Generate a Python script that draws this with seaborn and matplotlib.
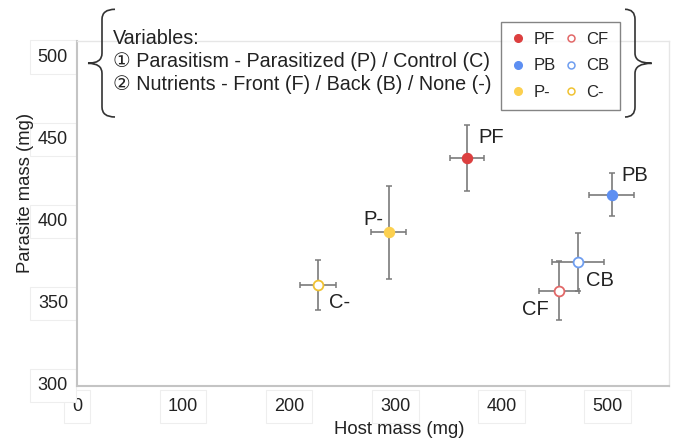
import matplotlib.pyplot as plt
import seaborn as sns
import pandas as pd
from matplotlib.lines import Line2D
from matplotlib.path import Path
from matplotlib.patches import PathPatch

# data
groups = ["PF", "PB", "P-", "CF", "CB", "C-"]
host_mass = [368, 504, 294, 454, 472, 227]
host_err = [16, 21, 16.5, 19, 24.5, 17]
parasite_mass = [437.5, 415, 392, 356.5, 374, 360]
parasite_err = [20, 13, 28.5, 18, 17.5, 15]
parasitized = [True, True, True, False, False, False]

x_ticks = [0, 100, 200, 300, 400, 500]
y_ticks = [300, 350, 400, 450, 500]

colors = {"PF": "#dc3f3f", "PB": "#5d8ff2", "P-": "#fcd04f",
          "CF": "#e26868", "CB": "#6f9ef0", "C-": "#f0c232"}
# label offsets in pixels (dx, dy, ha)
offsets = {"PF": (11, 20, "left"), "PB": (10, 19, "left"), "P-": (-6, 13, "right"),
           "CB": (8, -18, "left"), "CF": (-10, -19, "right"), "C-": (11, -17, "left")}

df = pd.DataFrame({"group": groups, "host": host_mass, "host_err": host_err,
                   "parasite": parasite_mass, "parasite_err": parasite_err,
                   "filled": parasitized})

sns.set_theme(style="white")
plt.rcParams["font.family"] = ["Liberation Sans", "DejaVu Sans", "Noto Sans CJK JP"]

W, H = 676, 441
fig = plt.figure(figsize=(W / 100, H / 100), dpi=100)
ax = fig.add_axes([77 / W, 1 - 386 / H, 592 / W, 345 / H])

ax.errorbar(df["host"], df["parasite"], xerr=df["host_err"], yerr=df["parasite_err"],
            fmt="none", ecolor="#7a7a7a", elinewidth=1.2, capsize=2.5, capthick=1.1, zorder=2)

for _, r in df.iterrows():
    c = colors[r["group"]]
    if r["filled"]:
        sns.scatterplot(x=[r["host"]], y=[r["parasite"]], ax=ax, s=55, color=c,
                        edgecolor=c, linewidth=0.8, zorder=3)
    else:
        sns.scatterplot(x=[r["host"]], y=[r["parasite"]], ax=ax, s=50, color="white",
                        edgecolor=c, linewidth=1.3, zorder=3)
    dx, dy, ha = offsets[r["group"]]
    ax.annotate(r["group"], (r["host"], r["parasite"]), xytext=(dx, dy),
                textcoords="offset pixels", ha=ha, va="center", fontsize=14.5, color="#222222")

ax.set_xlim(1, 558)
ax.set_ylim(298.5, 508.6)
ax.set_xticks(x_ticks)
ax.set_yticks(y_ticks)
ax.tick_params(axis="both", length=0, labelsize=13, labelcolor="#222222")
ax.tick_params(axis="x", pad=8.5)
ax.tick_params(axis="y", pad=6.5)
for lab in ax.get_xticklabels() + ax.get_yticklabels():
    lab.set_bbox(dict(boxstyle="square,pad=0.45", fc="white", ec="#eeeeee", lw=0.8))

ax.set_xlabel("Host mass (mg)", fontsize=13.3, color="#222222")
ax.set_ylabel("Parasite mass (mg)", fontsize=13.3, color="#222222")
ax.xaxis.set_label_coords(0.545, -0.1)
ax.yaxis.set_label_coords(-0.073, 0.559)

for side in ["left", "bottom"]:
    ax.spines[side].set_color("#c4c4c4")
    ax.spines[side].set_linewidth(1.5)
for side in ["top", "right"]:
    ax.spines[side].set_color("#e6e6e6")
    ax.spines[side].set_linewidth(1.0)

# legend
handles = []
for g, f in zip(groups, parasitized):
    if f:
        handles.append(Line2D([], [], ls="none", marker="o", ms=5.5, mfc=colors[g], mec=colors[g]))
    else:
        handles.append(Line2D([], [], ls="none", marker="o", ms=5, mfc="white", mec=colors[g], mew=1.1))
leg = fig.legend(handles, groups, loc="upper left", bbox_to_anchor=(501 / W, 1 - 21.7 / H),
                 ncol=2, frameon=True, fancybox=False, edgecolor="#666666", fontsize=12,
                 handlelength=0.8, handletextpad=0.55, columnspacing=0.5, labelspacing=0.7,
                 borderpad=0.6, borderaxespad=0)
leg.get_frame().set_linewidth(1.0)


def brace(x_end, x_col, x_tip, y_top, y_mid, y_bot, r=10):
    pts = [(x_end, y_top), (x_col, y_top), (x_col, y_top + r),
           (x_col, y_mid - r),
           (x_col, y_mid), (x_tip, y_mid),
           (x_col, y_mid), (x_col, y_mid + r),
           (x_col, y_bot - r),
           (x_col, y_bot), (x_end, y_bot)]
    codes = [Path.MOVETO, Path.CURVE3, Path.CURVE3, Path.LINETO, Path.CURVE3, Path.CURVE3,
             Path.CURVE3, Path.CURVE3, Path.LINETO, Path.CURVE3, Path.CURVE3]
    verts = [(x / W, 1 - y / H) for x, y in pts]
    fig.add_artist(PathPatch(Path(verts, codes), fill=False, ec="#333333", lw=1.2,
                             transform=fig.transFigure))


brace(115, 102, 88, 9.3, 63.3, 117)
brace(625, 635, 651.7, 9.3, 63.3, 117)

fig.text(113 / W, 1 - 38.3 / H, "Variables:", va="center", fontsize=14.2, color="#222222")
fig.text(113 / W, 1 - 61.7 / H, "\u2460 Parasitism - Parasitized (P) / Control (C)",
         va="center", fontsize=14.2, color="#222222")
fig.text(113 / W, 1 - 85 / H, "\u2461 Nutrients - Front (F) / Back (B) / None (-)",
         va="center", fontsize=14.2, color="#222222")

fig.savefig("out.png", dpi=100)
